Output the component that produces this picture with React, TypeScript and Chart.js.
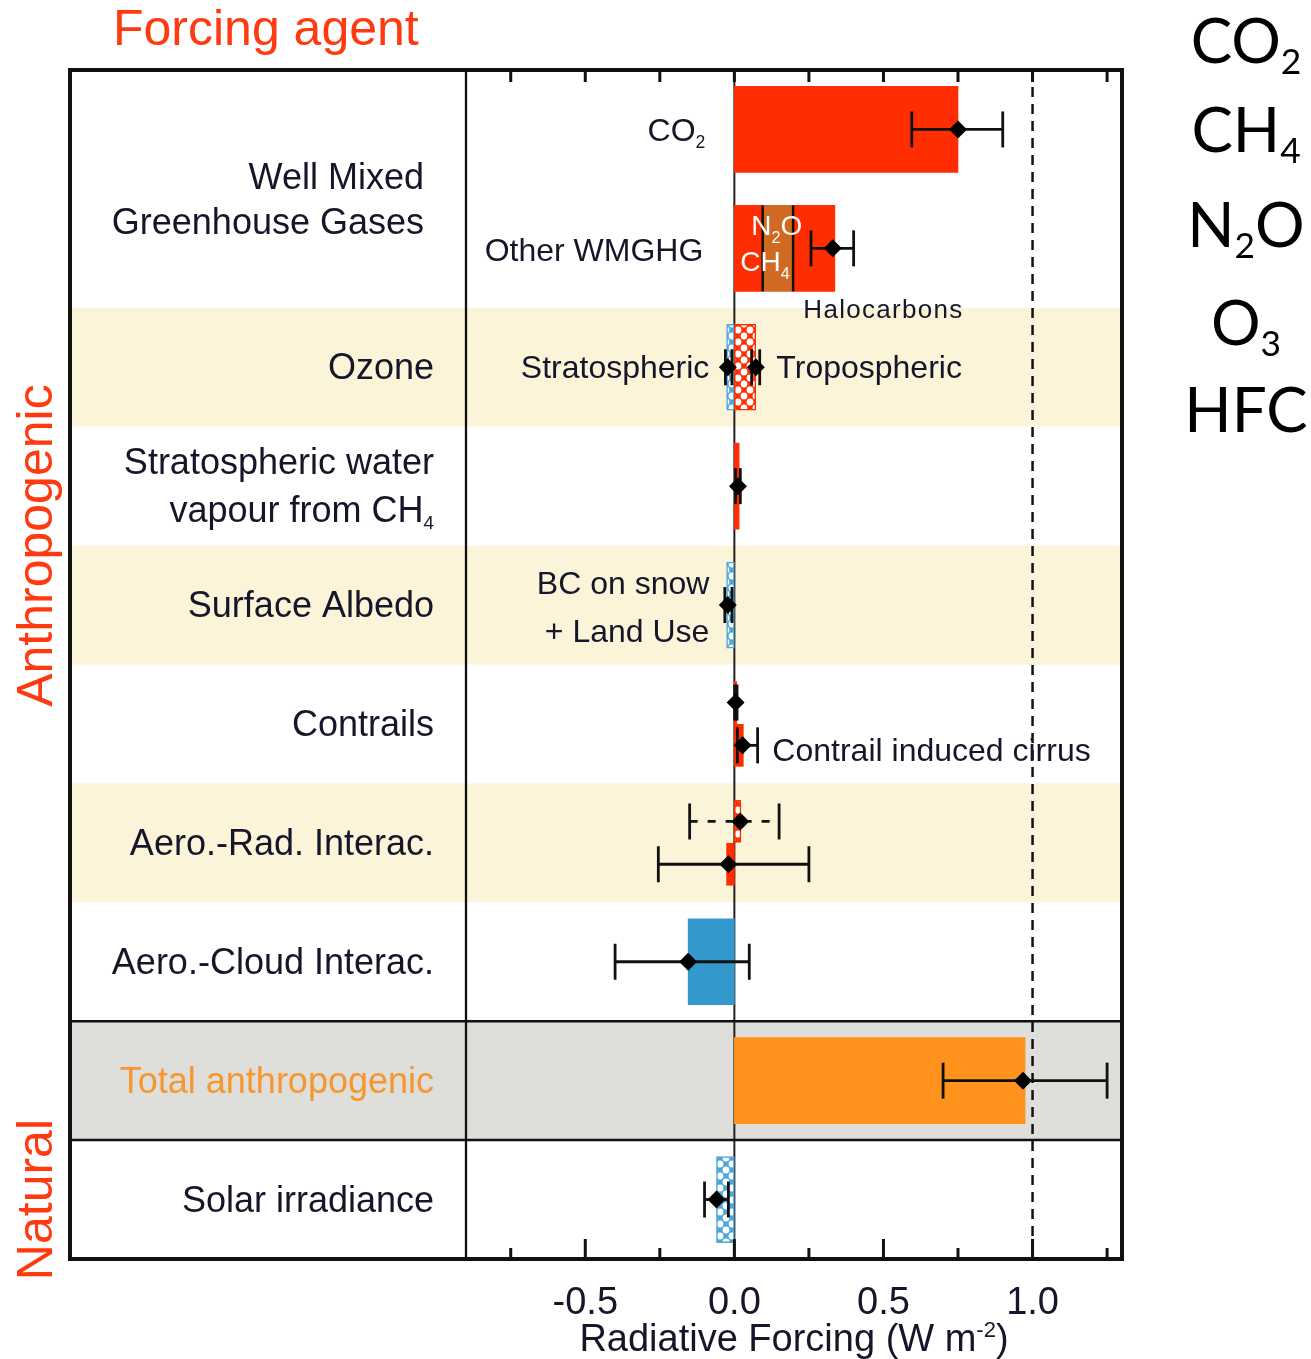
import React, { useEffect, useRef } from 'react';
import { Chart, registerables } from 'chart.js';

Chart.register(...registerables);

const W = 1311;
const H = 1359;

// ---------- data (rows are category positions, 0 = top, 10 = bottom) ----------
const solidNames = ['CO2', 'CH4', 'N2O', 'Halocarbons', 'Strat. water vapour from CH4', 'Aero.-Cloud Interac.', 'Total anthropogenic'];
const solidRows = [0.5, 1.5, 1.5, 1.5, 3.5, 7.5, 8.5];
const solidFrom = [0, 0, 0.095, 0.197, 0, 0, 0];
const solidTo = [0.75, 0.095, 0.197, 0.337, 0.016, -0.155, 0.975];

const halfNames = ['Contrails', 'Contrail induced cirrus', 'Aero.-Rad. Interac. (adjusted)'];
const halfRows = [5.32, 5.68, 6.68];
const halfFrom = [0, 0, -0.026];
const halfTo = [0.008, 0.03, 0];

const hatchNames = ['Stratospheric ozone', 'Tropospheric ozone', 'BC on snow + Land Use', 'Solar irradiance'];
const hatchRows = [2.5, 2.5, 4.5, 9.5];
const hatchFrom = [-0.026, 0, -0.026, -0.06];
const hatchTo = [0, 0.072, 0, 0];

const hatchHalfNames = ['Aero.-Rad. Interac.'];
const hatchHalfRows = [6.32];
const hatchHalfFrom = [0];
const hatchHalfTo = [0.022];

const estRows = [0.5, 1.5, 2.5, 2.5, 3.5, 4.5, 5.32, 5.68, 6.32, 6.68, 7.5, 8.5, 9.5];
const estBest = [0.75, 0.33, -0.022, 0.072, 0.012, -0.022, 0.004, 0.028, 0.02, -0.02, -0.155, 0.968, -0.06];
const estLow = [0.595, 0.257, -0.03, 0.058, 0.004, -0.032, 0.001, 0.01, -0.15, -0.255, -0.4, 0.7, -0.1];
const estHigh = [0.9, 0.4, -0.008, 0.085, 0.02, -0.008, 0.009, 0.078, 0.15, 0.25, 0.05, 1.25, -0.02];
const estDashed = [false, false, false, false, false, false, false, false, true, false, false, false, false];

const majorTicks = [-0.5, 0, 0.5, 1.0];
const majorTickLabels = ['-0.5', '0.0', '0.5', '1.0'];
const minorTicks = [-0.75, -0.25, 0.25, 0.75, 1.25];
const referenceLine = 1.0;
const xMin = -0.9;
const xMax = 1.3;

const creamRows = [2, 4, 6];
const grayRows = [8];

type Kind = 'n' | 'sub' | 'sup';
type Part = [string, Kind];

const rightFormulas: Part[][] = [
  [['CO', 'n'], ['2', 'sub']],
  [['CH', 'n'], ['4', 'sub']],
  [['N', 'n'], ['2', 'sub'], ['O', 'n']],
  [['O', 'n'], ['3', 'sub']],
  [['HFC', 'n']],
];

// ---------- styles ----------
const RED = '#FF2D00';
const BROWN = '#D06A22';
const BLUE = '#3399CC';
const HBLUE = '#4CA6DA';
const ORANGE = '#FF931E';
const CREAM = '#FCF4D8';
const GRAY = '#DEDFDA';
const TITLE_RED = '#FF3A10';
const TEXT = '#16162a';
const FONT = '"Liberation Sans", Arial, Helvetica, sans-serif';
const FONT2 = 'Lato, "Open Sans", sans-serif';

const solidColors = [RED, RED, BROWN, RED, RED, BLUE, ORANGE];
const halfColors = [RED, RED, RED];
const hatchColors = [HBLUE, RED, HBLUE, HBLUE];
const hatchHalfColors = [RED];

const BOX_LEFT = 70;

function drawRich(
  ctx: CanvasRenderingContext2D,
  parts: Part[],
  x: number,
  y: number,
  align: 'left' | 'right' | 'center',
  size: number,
  family: string,
  color: string,
  subScale = 0.58,
  subDy = 0.2,
  supDy = -0.4,
  letterSpacing = '0px'
) {
  ctx.save();
  ctx.fillStyle = color;
  ctx.textBaseline = 'alphabetic';
  ctx.textAlign = 'left';
  (ctx as any).letterSpacing = letterSpacing;
  const fontFor = (k: Kind) => `${k === 'n' ? size : size * subScale}px ${family}`;
  const widths = parts.map(([t, k]) => {
    ctx.font = fontFor(k);
    return ctx.measureText(t).width;
  });
  const total = widths.reduce((a, b) => a + b, 0);
  let cx = align === 'left' ? x : align === 'right' ? x - total : x - total / 2;
  parts.forEach(([t, k], i) => {
    ctx.font = fontFor(k);
    const dy = k === 'sub' ? size * subDy : k === 'sup' ? size * supDy : 0;
    ctx.fillText(t, cx, y + dy);
    cx += widths[i];
  });
  ctx.restore();
}

function line(ctx: CanvasRenderingContext2D, x1: number, y1: number, x2: number, y2: number) {
  ctx.beginPath();
  ctx.moveTo(x1, y1);
  ctx.lineTo(x2, y2);
  ctx.stroke();
}

const decor = {
  id: 'decor',
  beforeDatasetsDraw(chart: any) {
    const { ctx, chartArea: ca, scales } = chart;
    const xs = scales.x;
    const ys = scales.y;
    ctx.save();
    ctx.fillStyle = CREAM;
    creamRows.forEach((r) => {
      const t = ys.getPixelForValue(r);
      const b = ys.getPixelForValue(r + 1);
      ctx.fillRect(BOX_LEFT, t, ca.right - BOX_LEFT, b - t);
    });
    ctx.fillStyle = GRAY;
    grayRows.forEach((r) => {
      const t = ys.getPixelForValue(r);
      const b = ys.getPixelForValue(r + 1);
      ctx.fillRect(BOX_LEFT, t, ca.right - BOX_LEFT, b - t);
    });
    const x0 = xs.getPixelForValue(0);
    ctx.strokeStyle = '#222';
    ctx.lineWidth = 2;
    line(ctx, x0, ca.top, x0, ca.bottom);
    const x1 = xs.getPixelForValue(referenceLine);
    ctx.setLineDash([10, 7]);
    ctx.lineWidth = 2.5;
    ctx.strokeStyle = '#111';
    line(ctx, x1, ca.top, x1, ca.bottom);
    ctx.restore();
  },
  beforeDatasetDraw(chart: any, args: any) {
    if (args.index !== 0) return;
    const { ctx, scales } = chart;
    const xs = scales.x;
    const ys = scales.y;
    ctx.save();
    // segment dividers in stacked WMGHG bar
    const meta = chart.getDatasetMeta(1);
    ctx.strokeStyle = '#111';
    ctx.lineWidth = 2.5;
    solidTo.forEach((v, i) => {
      const next = solidFrom.findIndex((f, j) => j !== i && solidRows[j] === solidRows[i] && f === v);
      if (next >= 0) {
        const el = meta.data[i];
        const px = xs.getPixelForValue(v);
        line(ctx, px, el.y - el.height / 2, px, el.y + el.height / 2);
      }
    });
    // uncertainty bars
    ctx.strokeStyle = '#111';
    ctx.lineWidth = 2.8;
    estRows.forEach((r, i) => {
      const py = ys.getPixelForValue(r);
      const lo = xs.getPixelForValue(estLow[i]);
      const hi = xs.getPixelForValue(estHigh[i]);
      ctx.setLineDash(estDashed[i] ? [8, 10] : []);
      line(ctx, lo, py, hi, py);
      ctx.setLineDash([]);
      line(ctx, lo, py - 18, lo, py + 18);
      line(ctx, hi, py - 18, hi, py + 18);
    });
    ctx.restore();
  },
  afterDatasetsDraw(chart: any) {
    const { ctx, chartArea: ca, scales } = chart;
    const xs = scales.x;
    const ys = scales.y;
    ctx.save();
    // frame
    ctx.strokeStyle = '#111';
    ctx.lineWidth = 2.3;
    line(ctx, ca.left, ca.top, ca.left, ca.bottom);
    ctx.lineWidth = 2.5;
    grayRows.forEach((r) => {
      [r, r + 1].forEach((v) => {
        const py = ys.getPixelForValue(v);
        line(ctx, BOX_LEFT, py, ca.right, py);
      });
    });
    ctx.lineWidth = 4;
    ctx.strokeRect(BOX_LEFT, ca.top, ca.right - BOX_LEFT, ca.bottom - ca.top);
    // ticks
    ctx.lineWidth = 3;
    [...majorTicks, ...minorTicks].forEach((v) => {
      const px = xs.getPixelForValue(v);
      line(ctx, px, ca.top, px, ca.top + 12);
    });
    majorTicks.forEach((v) => {
      const px = xs.getPixelForValue(v);
      line(ctx, px, ca.bottom, px, ca.bottom - 20);
    });
    minorTicks.forEach((v) => {
      const px = xs.getPixelForValue(v);
      line(ctx, px, ca.bottom, px, ca.bottom - 11);
    });
    ctx.restore();

    // tick labels and axis title
    ctx.save();
    ctx.fillStyle = TEXT;
    ctx.font = `38px ${FONT}`;
    ctx.textAlign = 'center';
    ctx.textBaseline = 'alphabetic';
    majorTicks.forEach((v, i) => {
      ctx.fillText(majorTickLabels[i], xs.getPixelForValue(v), 1314);
    });
    ctx.restore();
    drawRich(ctx, [['Radiative Forcing (W m', 'n'], ['-2', 'sup'], [')', 'n']], (ca.left + ca.right) / 2, 1351, 'center', 38, FONT, TEXT, 0.58, 0.2, -0.36);

    // left labels
    const RX = ca.left - 32;
    const lab = (t: Part[], row: number, dy: number, x = RX, color = TEXT) =>
      drawRich(ctx, t, x, ys.getPixelForValue(row) + dy, 'right', 36, FONT, color, 0.52, 0.2);
    lab([['Well Mixed', 'n']], 1, 0, RX - 10);
    lab([['Greenhouse Gases', 'n']], 1, 45, RX - 10);
    lab([['Ozone', 'n']], 2.5, 12);
    lab([['Stratospheric water', 'n']], 3.5, -12);
    lab([['vapour from CH', 'n'], ['4', 'sub']], 3.5, 36);
    lab([['Surface Albedo', 'n']], 4.5, 12);
    lab([['Contrails', 'n']], 5.5, 12);
    lab([['Aero.-Rad. Interac.', 'n']], 6.5, 12);
    lab([['Aero.-Cloud Interac.', 'n']], 7.5, 12);
    lab([['Total anthropogenic', 'n']], 8.5, 12, RX, '#F7962F');
    lab([['Solar irradiance', 'n']], 9.5, 12);

    // labels inside the plot
    const x0 = xs.getPixelForValue(0);
    const pl = (t: Part[], x: number, row: number, dy: number, align: 'left' | 'right') =>
      drawRich(ctx, t, x, ys.getPixelForValue(row) + dy, align, 32, FONT, TEXT, 0.55, 0.2);
    pl([['CO', 'n'], ['2', 'sub']], x0 - 29, 0.5, 12, 'right');
    pl([['Other WMGHG', 'n']], x0 - 31, 1.5, 13, 'right');
    pl([['Stratospheric', 'n']], x0 - 25, 2.5, 11, 'right');
    pl([['Tropospheric', 'n']], x0 + 42, 2.5, 11, 'left');
    pl([['BC on snow', 'n']], x0 - 25, 4.5, -11, 'right');
    pl([['+ Land Use', 'n']], x0 - 25, 4.5, 37, 'right');
    pl([['Contrail induced cirrus', 'n']], x0 + 38, 5.68, 16, 'left');
    drawRich(ctx, [['Halocarbons', 'n']], x0 + 69, ys.getPixelForValue(2) + 10, 'left', 26, FONT, TEXT, 0.6, 0.2, -0.4, '1.3px');
    drawRich(ctx, [['N', 'n'], ['2', 'sub'], ['O', 'n']], x0 + 17, ys.getPixelForValue(1.5) - 13, 'left', 28, FONT, '#ffffff', 0.58, 0.28);
    drawRich(ctx, [['CH', 'n'], ['4', 'sub']], x0 + 6, ys.getPixelForValue(1.5) + 23, 'left', 28, FONT, '#ffffff', 0.58, 0.28);

    // red group labels
    ctx.save();
    ctx.fillStyle = TITLE_RED;
    ctx.font = `50px ${FONT}`;
    ctx.textBaseline = 'alphabetic';
    ctx.textAlign = 'left';
    ctx.fillText('Forcing agent', 113, 45);
    ctx.textAlign = 'center';
    const vlab = (t: string, cy: number) => {
      ctx.save();
      ctx.translate(52, cy);
      ctx.rotate(-Math.PI / 2);
      ctx.fillText(t, 0, 0);
      ctx.restore();
    };
    vlab('Anthropogenic', ys.getPixelForValue(4));
    vlab('Natural', ys.getPixelForValue(9.5));
    ctx.restore();

    // formulas at the right
    const baselines = [63, 152, 247, 345, 432];
    rightFormulas.forEach((f, i) => {
      drawRich(ctx, f, 1246, baselines[i], 'center', 62, FONT2, '#000', 0.57, 0.17);
    });
  },
};

export default function App() {
  const canvasRef = useRef<HTMLCanvasElement | null>(null);

  useEffect(() => {
    const canvas = canvasRef.current;
    if (!canvas) return;
    const mainCtx = canvas.getContext('2d') as CanvasRenderingContext2D;
    const makeHatch = (color: string) => {
      const s = 12;
      const c = document.createElement('canvas');
      c.width = s;
      c.height = s;
      const g = c.getContext('2d') as CanvasRenderingContext2D;
      g.fillStyle = color;
      g.fillRect(0, 0, s, s);
      g.fillStyle = '#ffffff';
      [[s / 2, s / 2], [0, 0], [s, 0], [0, s], [s, s]].forEach(([px, py]) => {
        g.beginPath();
        g.arc(px, py, 3.4, 0, Math.PI * 2);
        g.fill();
      });
      return mainCtx.createPattern(c, 'repeat') as CanvasPattern;
    };
    const hatchFill = hatchColors.map(makeHatch);
    const hatchHalfFill = hatchHalfColors.map(makeHatch);

    const barCommon = { stack: 'rows', grouped: true, borderSkipped: false as any };

    const chart = new Chart(canvas, {
      type: 'bar',
      data: {
        datasets: [
          {
            type: 'scatter',
            label: 'Best estimate',
            data: estRows.map((r, i) => ({ x: estBest[i], y: r })),
            pointStyle: 'rectRot',
            pointRadius: 9,
            pointBackgroundColor: '#000',
            pointBorderWidth: 0,
            order: 0,
          } as any,
          {
            label: 'Forcing',
            data: solidRows.map((r, i) => ({ x: [solidFrom[i], solidTo[i]], y: r })),
            backgroundColor: solidColors,
            borderWidth: 0,
            barThickness: 86,
            order: 1,
            ...barCommon,
          } as any,
          {
            label: 'Forcing (split rows)',
            data: halfRows.map((r, i) => ({ x: [halfFrom[i], halfTo[i]], y: r })),
            backgroundColor: halfColors,
            borderWidth: 0,
            barThickness: 42,
            order: 2,
            ...barCommon,
          } as any,
          {
            label: 'Forcing (hatched)',
            data: hatchRows.map((r, i) => ({ x: [hatchFrom[i], hatchTo[i]], y: r })),
            backgroundColor: hatchFill,
            borderColor: hatchColors,
            borderWidth: 1.5,
            barThickness: 86,
            order: 3,
            ...barCommon,
          } as any,
          {
            label: 'Forcing (hatched, split rows)',
            data: hatchHalfRows.map((r, i) => ({ x: [hatchHalfFrom[i], hatchHalfTo[i]], y: r })),
            backgroundColor: hatchHalfFill,
            borderColor: hatchHalfColors,
            borderWidth: 1.5,
            barThickness: 42,
            order: 4,
            ...barCommon,
          } as any,
        ],
      },
      options: {
        responsive: false,
        animation: false,
        indexAxis: 'y',
        layout: { padding: { left: 466, right: W - 1122, top: 70, bottom: H - 1259 } },
        plugins: {
          legend: { display: false },
          tooltip: { enabled: false },
        },
        scales: {
          x: { type: 'linear', min: xMin, max: xMax, stacked: false, display: false },
          y: { type: 'linear', min: 0, max: 10, reverse: true, display: false, offset: false },
        },
      } as any,
      plugins: [decor as any],
    });
    return () => chart.destroy();
  }, []);

  return (
    <div style={{ position: 'absolute', left: 0, top: 0, width: W, height: H, background: '#fff' }}>
      <canvas ref={canvasRef} width={W} height={H} style={{ display: 'block', width: W, height: H }} />
    </div>
  );
}
